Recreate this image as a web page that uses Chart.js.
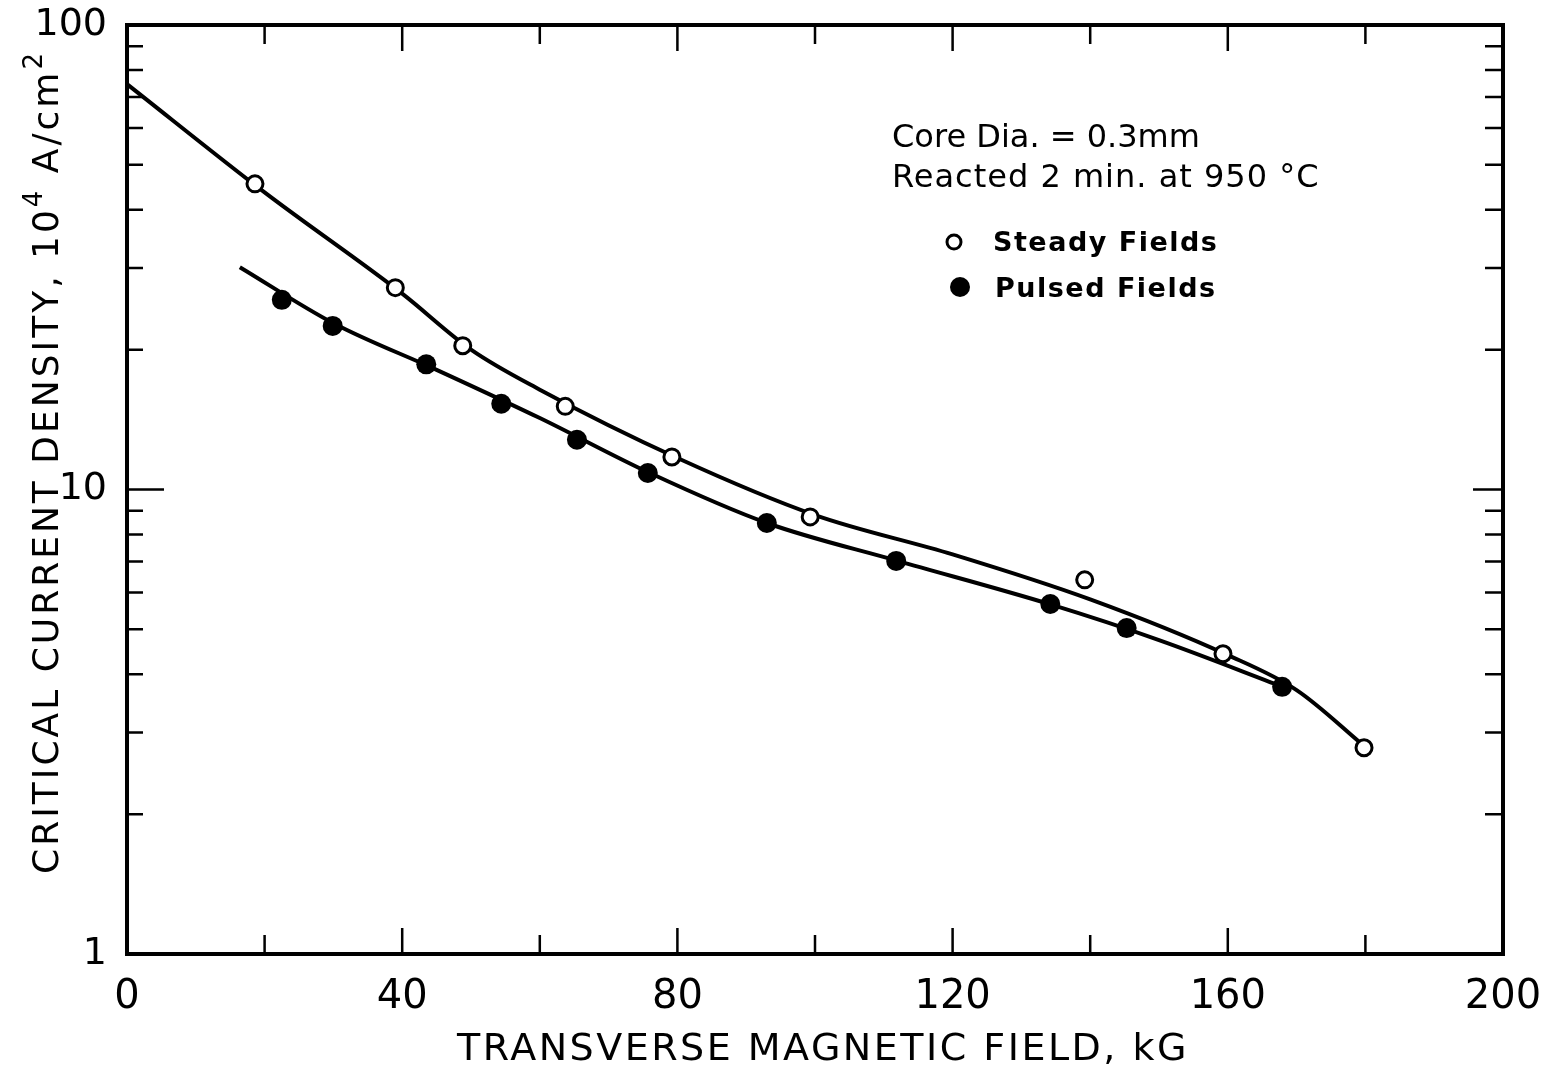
<!DOCTYPE html>
<html>
<head>
<meta charset="utf-8">
<script src="https://cdn.jsdelivr.net/npm/chart.js@4/dist/chart.umd.min.js"></script>
<style>
  html, body { margin: 0; padding: 0; background: #fff; }
  #cv { display: block; }
</style>
</head>
<body>
<canvas id="cv" width="1544" height="1073"></canvas>
<script>
// measured points (kG, 10^4 A/cm^2)
const steadyX = [18.6, 39.0, 48.8, 63.7, 79.2, 99.3, 139.2, 159.3, 179.8]
const steadyY = [45.5, 27.2, 20.4, 15.1, 11.75, 8.73, 6.39, 4.43, 2.78]
const pulsedX = [22.5, 29.9, 43.5, 54.4, 65.4, 75.7, 93.0, 111.8, 134.2, 145.3, 167.9]
const pulsedY = [25.6, 22.5, 18.6, 15.3, 12.8, 10.85, 8.47, 7.02, 5.67, 5.03, 3.76]

// hand drawn fit curves
const steadyFitX = [0, 20, 40, 50, 60, 80, 100, 120, 140, 160, 170, 180]
const steadyFitY = [74.6, 43.6, 26.4, 20.0, 16.4, 11.69, 8.81, 7.25, 5.80, 4.40, 3.70, 2.79]
const pulsedFitX = [16.4, 30, 45, 60, 76, 93, 112, 134, 150, 168]
const pulsedFitY = [30.1, 22.8, 18.1, 14.25, 10.85, 8.47, 7.02, 5.67, 4.74, 3.76]

const xLabelEvery = 40
const yLabels = [1, 10, 100]
const xTitle = 'TRANSVERSE MAGNETIC FIELD, kG'
const yTitleParts = ['CRITICAL CURRENT DENSITY, 10', '4', ' A/cm', '2']
const noteLines = ['Core Dia. = 0.3mm', 'Reacted 2 min. at 950 °C']
const legendNames = ['Steady Fields', 'Pulsed Fields']

const FONT = '"DejaVu Sans", "Liberation Sans", sans-serif'

function toXY(xs, ys) {
  return xs.map((x, i) => ({ x: x, y: ys[i] }))
}

/**
 * Frame, inward ticks, axis titles and the in-plot notes
 */
const paperPlugin = {
  id: 'paper',
  afterDraw(chart) {
    const ctx = chart.ctx
    const ca = chart.chartArea
    const xs = chart.scales.x, ys = chart.scales.y
    ctx.save()
    ctx.strokeStyle = '#000'
    ctx.fillStyle = '#000'

    // ticks
    ctx.lineWidth = 2.5
    ctx.beginPath()
    for (let v = 20; v < 200; v += 20) {
      const px = xs.getPixelForValue(v)
      const len = v % 40 === 0 ? 26 : 19
      ctx.moveTo(px, ca.bottom); ctx.lineTo(px, ca.bottom - len)
      ctx.moveTo(px, ca.top); ctx.lineTo(px, ca.top + len)
    }
    for (const d of [1, 10]) {
      for (let k = 2; k <= 9; k++) {
        const py = ys.getPixelForValue(k * d)
        ctx.moveTo(ca.left, py); ctx.lineTo(ca.left + 16, py)
        ctx.moveTo(ca.right, py); ctx.lineTo(ca.right - 18, py)
      }
    }
    const p10 = ys.getPixelForValue(10)
    ctx.moveTo(ca.left, p10); ctx.lineTo(ca.left + 37, p10)
    ctx.moveTo(ca.right, p10); ctx.lineTo(ca.right - 30, p10)
    ctx.stroke()

    // frame
    ctx.lineWidth = 4
    ctx.strokeRect(ca.left, ca.top, ca.right - ca.left, ca.bottom - ca.top)

    // x title
    ctx.font = '38px ' + FONT
    ctx.letterSpacing = '2.5px'
    ctx.textAlign = 'center'
    ctx.textBaseline = 'alphabetic'
    ctx.fillText(xTitle, (ca.left + ca.right) / 2 + 8, 1060)

    // y title, rotated, with raised exponents
    ctx.save()
    ctx.translate(58, 462)
    ctx.rotate(-Math.PI / 2)
    ctx.textAlign = 'left'
    const big = '36px ' + FONT, small = '26px ' + FONT
    ctx.letterSpacing = '3px'
    let w = 0
    yTitleParts.forEach((s, i) => {
      ctx.font = i % 2 ? small : big
      w += ctx.measureText(s).width
    })
    let cx = -w / 2
    yTitleParts.forEach((s, i) => {
      ctx.font = i % 2 ? small : big
      ctx.fillText(s, cx, i % 2 ? -16 : 0)
      cx += ctx.measureText(s).width
    })
    ctx.restore()

    // notes
    ctx.letterSpacing = '0px'
    ctx.textAlign = 'left'
    ctx.font = '32px ' + FONT
    ctx.fillText(noteLines[0], ca.left + 765, ca.top + 122)
    ctx.letterSpacing = '1px'
    ctx.fillText(noteLines[1], ca.left + 765, ca.top + 162)

    // legend
    ctx.font = 'bold 27px ' + FONT
    ctx.letterSpacing = '1.5px'
    ctx.fillText(legendNames[0], ca.left + 866, ca.top + 226)
    ctx.fillText(legendNames[1], ca.left + 868, ca.top + 272)
    ctx.lineWidth = 3
    ctx.beginPath()
    ctx.arc(ca.left + 827, ca.top + 217, 7, 0, Math.PI * 2)
    ctx.stroke()
    ctx.beginPath()
    ctx.arc(ca.left + 833, ca.top + 262, 10, 0, Math.PI * 2)
    ctx.fill()
    ctx.restore()
  }
}

/**
 * Setup
 */
function setup() {
  const el = document.getElementById('cv')
  Chart.defaults.font.family = FONT
  Chart.defaults.color = '#000'

  new Chart(el.getContext('2d'), {
    type: 'scatter',
    data: {
      datasets: [{
        label: legendNames[0],
        data: toXY(steadyX, steadyY),
        pointStyle: 'circle',
        pointRadius: 8,
        pointBorderWidth: 3,
        pointBackgroundColor: '#fff',
        pointBorderColor: '#000',
        showLine: false
      }, {
        label: legendNames[1],
        data: toXY(pulsedX, pulsedY),
        pointStyle: 'circle',
        pointRadius: 10,
        pointBorderWidth: 0,
        pointBackgroundColor: '#000',
        pointBorderColor: '#000',
        showLine: false
      }, {
        label: 'Steady fit',
        data: toXY(steadyFitX, steadyFitY),
        showLine: true,
        pointRadius: 0,
        borderColor: '#000',
        borderWidth: 4,
        cubicInterpolationMode: 'monotone'
      }, {
        label: 'Pulsed fit',
        data: toXY(pulsedFitX, pulsedFitY),
        showLine: true,
        pointRadius: 0,
        borderColor: '#000',
        borderWidth: 4,
        cubicInterpolationMode: 'monotone'
      }]
    },
    options: {
      responsive: false,
      animation: false,
      devicePixelRatio: 1,
      layout: { padding: { left: 0, top: 25, right: 41, bottom: 0 } },
      plugins: {
        legend: { display: false },
        tooltip: { enabled: false }
      },
      scales: {
        x: {
          type: 'linear',
          min: 0,
          max: 200,
          grid: { display: false },
          border: { display: false },
          afterFit: s => {
            s.height = 119
            s.paddingLeft = 0
            s.paddingRight = 0
          },
          ticks: {
            stepSize: 20,
            autoSkip: false,
            maxRotation: 0,
            padding: 12,
            font: { size: 40 },
            callback: v => v % xLabelEvery === 0 ? String(v) : ''
          }
        },
        y: {
          type: 'logarithmic',
          min: 1,
          max: 100,
          grid: { display: false },
          border: { display: false },
          afterFit: s => {
            s.width = 127
            s.paddingTop = 0
            s.paddingBottom = 0
          },
          ticks: {
            autoSkip: false,
            padding: 12,
            font: { size: 38 },
            callback: v => yLabels.includes(v) ? String(v) : ''
          }
        }
      }
    },
    plugins: [paperPlugin]
  })
}

setup()
</script>
</body>
</html>
